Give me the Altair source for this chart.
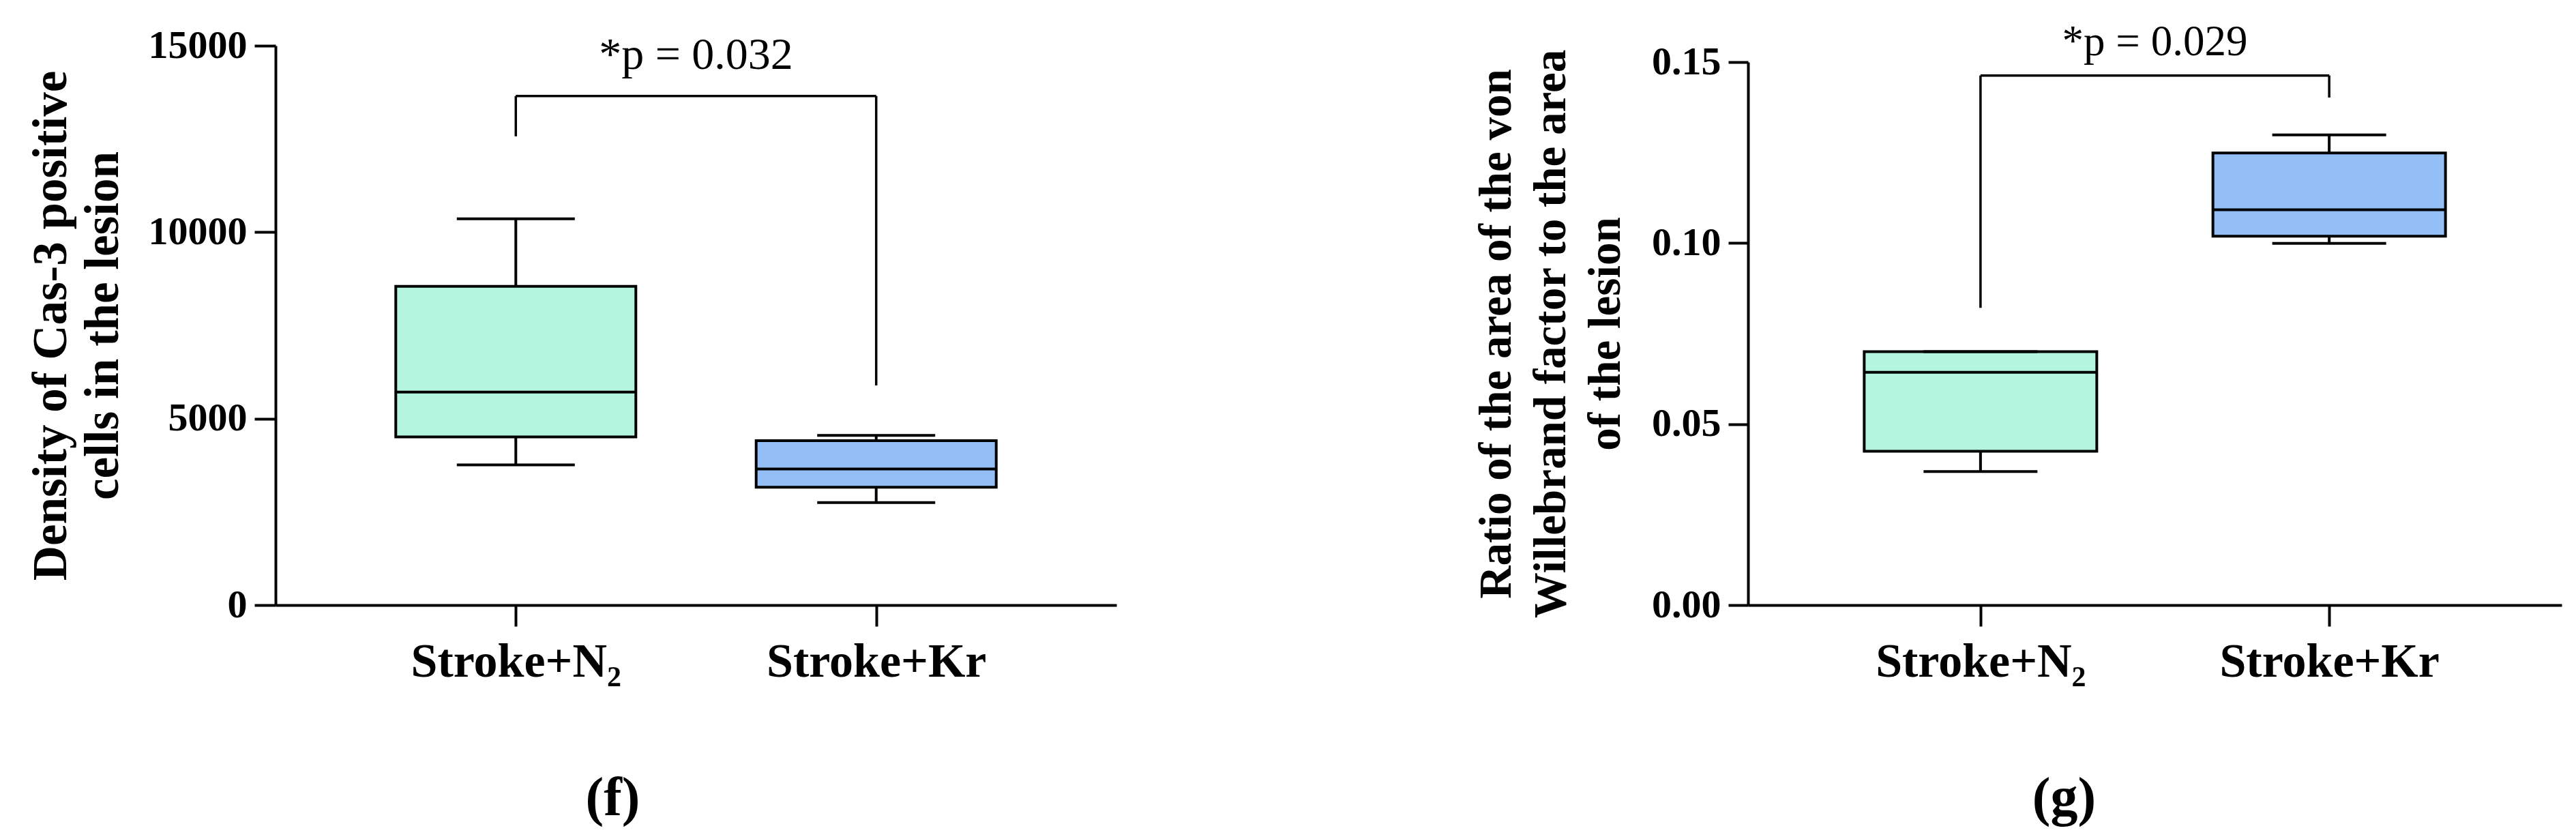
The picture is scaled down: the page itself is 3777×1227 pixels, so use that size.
import altair as alt
import pandas as pd

SERIF = "Liberation Serif"

# ---------------- data ----------------
groups = ["Stroke+N₂", "Stroke+Kr"]
fill_colors = ["#B3F5DE", "#93BEF6"]

# panel (f): density of Cas-3 positive cells
cas3_min = [3760, 2750]
cas3_q1 = [4510, 3160]
cas3_median = [5710, 3650]
cas3_q3 = [8545, 4410]
cas3_max = [10360, 4550]
cas3_ticks = [0, 5000, 10000, 15000]
cas3_bracket_top = 13650
cas3_bracket_ends = [12570, 5890]
cas3_p_label = "*p = 0.032"
cas3_p_y = 14374
cas3_title = ["Density of Cas-3 positive", "cells in the lesion"]

# panel (g): ratio of von Willebrand factor area to lesion area
vwf_min = [0.0369, 0.0999]
vwf_q1 = [0.0425, 0.1019]
vwf_median = [0.0643, 0.1092]
vwf_q3 = [0.0700, 0.1249]
vwf_max = [0.0700, 0.1299]
vwf_ticks = [0.0, 0.05, 0.10, 0.15]
vwf_bracket_top = 0.1463
vwf_bracket_ends = [0.0821, 0.1402]
vwf_p_label = "*p = 0.029"
vwf_p_y = 0.1519
vwf_title = ["Ratio of the area of the von",
             "Willebrand factor to the area",
             "of the lesion"]


def panel(mins, q1s, meds, q3s, maxs, ticks, fmt, domain, yrange,
          title_lines, title_size, title_lh, title_pad, tick_size,
          width, height, box_w, cap_w, br_top, br_ends,
          p_label, p_y, p_size, caption, cap_dx, cap_offset):
    step = width / (1 + 2 * 0.6667)
    df = pd.DataFrame({"group": groups, "lo": mins, "q1": q1s, "med": meds,
                       "q3": q3s, "hi": maxs, "fill": fill_colors})
    br = pd.DataFrame({
        "group": [groups[0], groups[0], groups[1]],
        "group2": [groups[1], groups[0], groups[1]],
        "ya": [br_top, br_ends[0], br_ends[1]],
        "yb": [br_top, br_top, br_top],
    })
    ptxt = pd.DataFrame({"group": [groups[0]], "y": [p_y], "label": [p_label]})

    xscale = alt.Scale(type="point", padding=0.6667, domain=groups)
    xaxis = alt.Axis(title=None, labelAngle=0, labelFont=SERIF, labelFontSize=70,
                     labelFontWeight="bold", labelColor="black", labelPadding=18,
                     labelLimit=0,
                     tickSize=31, tickWidth=4, tickColor="black",
                     domainColor="black", domainWidth=4, grid=False)
    sc_kw = dict(domain=domain, nice=False, zero=True)
    if yrange is not None:
        sc_kw["range"] = yrange
    yscale = alt.Scale(**sc_kw)
    yaxis = alt.Axis(values=ticks, format=fmt, title=title_lines,
                     titleFont=SERIF, titleFontSize=title_size,
                     titleFontWeight="bold", titleColor="black",
                     titleLineHeight=title_lh, titlePadding=title_pad,
                     labelFont=SERIF, labelFontSize=58, labelFontWeight="bold",
                     labelColor="black", labelPadding=11, labelLimit=0,
                     tickSize=tick_size, tickWidth=4, tickColor="black",
                     domainColor="black", domainWidth=4, grid=False)

    def X():
        return alt.X("group:N", scale=xscale, axis=xaxis, sort=groups)

    def Y(field):
        return alt.Y(field, type="quantitative", scale=yscale, axis=yaxis)

    base = alt.Chart(df)
    whisker = base.mark_rule(color="black", strokeWidth=4).encode(
        x=X(), y=Y("lo"), y2=alt.Y2("hi"))
    box = base.mark_bar(size=box_w, stroke="black", strokeWidth=4).encode(
        x=X(), y=Y("q1"), y2=alt.Y2("q3"), fill=alt.Fill("fill:N", scale=None))
    median = base.mark_tick(size=box_w, thickness=4, color="black", opacity=1).encode(
        x=X(), y=Y("med"))
    cap_lo = base.mark_tick(size=cap_w, thickness=4, color="black", opacity=1).encode(
        x=X(), y=Y("lo"))
    cap_hi = base.mark_tick(size=cap_w, thickness=4, color="black", opacity=1).encode(
        x=X(), y=Y("hi"))
    bracket = alt.Chart(br).mark_rule(color="black", strokeWidth=3.5).encode(
        x=X(), x2=alt.X2("group2"), y=Y("ya"), y2=alt.Y2("yb"))
    ptext = alt.Chart(ptxt).mark_text(
        font=SERIF, fontSize=p_size, color="black", align="center",
        baseline="alphabetic", dx=step / 2).encode(
        x=X(), y=Y("y"), text="label:N")

    return alt.layer(whisker, box, median, cap_lo, cap_hi, bracket, ptext).properties(
        width=width, height=height,
        title=alt.TitleParams(caption, orient="bottom", anchor="middle", frame="group",
                              font=SERIF, fontSize=80, fontWeight="bold",
                              color="black", dx=cap_dx, offset=cap_offset))


f_panel = panel(cas3_min, cas3_q1, cas3_median, cas3_q3, cas3_max, cas3_ticks, "d",
                [0, 15000], None, cas3_title, 71, 76, 30, 31,
                1233, 820, 352, 173, cas3_bracket_top, cas3_bracket_ends,
                cas3_p_label, cas3_p_y, 66, "(f)", -122, 127)

g_panel = panel(vwf_min, vwf_q1, vwf_median, vwf_q3, vwf_max, vwf_ticks, ".2f",
                [0, 0.15], [820, 24], vwf_title, 67, 80, 33, 29,
                1193, 820, 341, 167, vwf_bracket_top, vwf_bracket_ends,
                vwf_p_label, vwf_p_y, 63, "(g)", -133, 127)

chart = alt.hconcat(f_panel, g_panel, spacing=926, bounds="flush",
                    background="white",
                    padding={"left": 31, "top": 22, "right": 4, "bottom": 5}
                    ).configure_view(stroke="transparent", strokeWidth=0)

chart.save("out.html", embed_options={"renderer": "svg", "actions": False})
